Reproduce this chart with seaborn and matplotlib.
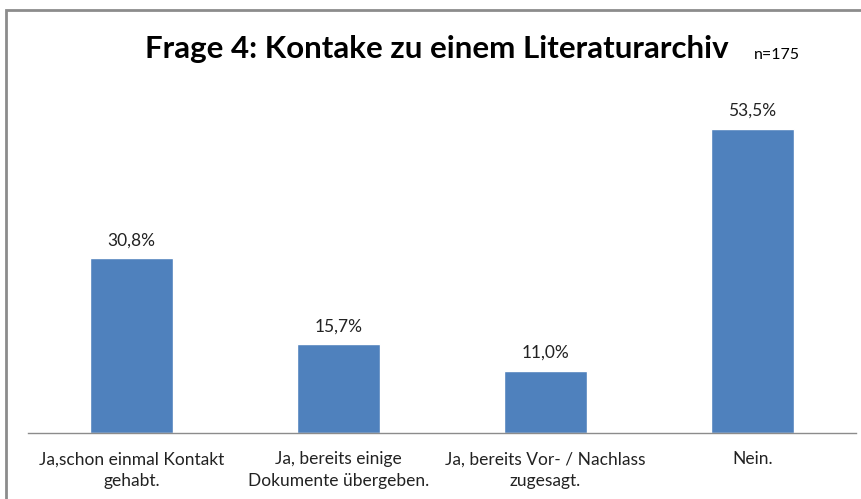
import matplotlib
matplotlib.use("Agg")
import matplotlib.pyplot as plt
import seaborn as sns
import pandas as pd
from matplotlib.patches import Rectangle

kategorien = ["Ja,schon einmal Kontakt\ngehabt.",
              "Ja, bereits einige\nDokumente übergeben.",
              "Ja, bereits Vor- / Nachlass\nzugesagt.",
              "Nein."]
anteile = [30.8, 15.7, 11.0, 53.5]
beschriftung = ["30,8%", "15,7%", "11,0%", "53,5%"]

sns.set_style("white")
plt.rcParams['font.family'] = ['Lato', 'DejaVu Sans']

df = pd.DataFrame({"kategorie": kategorien, "anteil": anteile})

fig = plt.figure(figsize=(8.62, 4.99), dpi=100)
ax = fig.add_axes([0.0325, 0.132, 0.9605, 0.684])
sns.barplot(data=df, x="kategorie", y="anteil", color="#4F81BD",
            saturation=1, width=0.4, ax=ax)

for i, (v, t) in enumerate(zip(anteile, beschriftung)):
    ax.text(i, v + 1.7, t, ha="center", va="bottom", fontsize=12.5, color="#222222")

ax.set_xlim(-0.5, 3.5)
ax.set_ylim(0, 60)
ax.set_yticks([])
ax.set_xlabel("")
ax.set_ylabel("")
ax.tick_params(axis="x", length=0, labelsize=12.5, pad=13, colors="#222222")
for lbl in ax.get_xticklabels():
    lbl.set_linespacing(1.45)
for s in ["top", "right", "left"]:
    ax.spines[s].set_visible(False)
ax.spines["bottom"].set_color("#8c8c8c")
ax.spines["bottom"].set_linewidth(1)

fig.text(0.507, 0.902, "Frage 4: Kontake zu einem Literaturarchiv",
         ha="center", va="center", fontsize=22.5, fontweight="bold", color="black")
fig.text(0.874, 0.89, "n=175", ha="left", va="center", fontsize=11.5, color="black")

fig.patches.append(Rectangle((6 / 862, -0.1), 1.2, 1 - 10 / 499 + 0.1,
                             transform=fig.transFigure, fill=False,
                             edgecolor="#8c8c8c", linewidth=2, zorder=10))

fig.savefig("out.png", dpi=100)
